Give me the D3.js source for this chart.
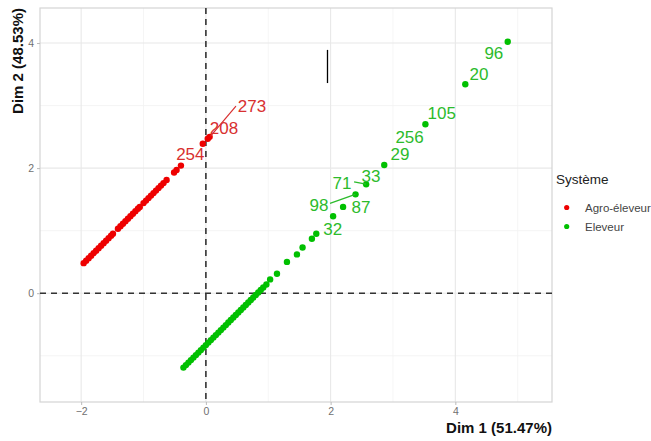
<!DOCTYPE html>
<html><head><meta charset="utf-8">
<script src="https://cdn.jsdelivr.net/npm/d3@7"></script>
<style>body{margin:0;background:#fff}svg{display:block}</style>
</head><body><svg id="c" width="651" height="441"></svg>
<script>
// ---- data ----
const groups = ["Agro-éleveur", "Eleveur"];
const redX = [-1.96,-1.92,-1.88,-1.84,-1.80,-1.76,-1.72,-1.68,-1.64,-1.60,-1.56,-1.52,-1.49,
  -1.41,-1.37,-1.33,-1.29,-1.25,-1.21,-1.17,-1.13,-1.09,-1.06,
  -1.00,-0.96,-0.92,-0.88,-0.84,-0.80,-0.76,-0.72,-0.68,-0.63,
  -0.51,-0.47,-0.40,-0.05,0.03,0.06];
const redY = [0.48,0.52,0.56,0.60,0.64,0.68,0.72,0.76,0.80,0.84,0.88,0.92,0.95,
  1.03,1.07,1.11,1.15,1.19,1.23,1.27,1.31,1.35,1.38,
  1.44,1.48,1.52,1.56,1.60,1.64,1.68,1.72,1.76,1.81,
  1.93,1.97,2.04,2.39,2.47,2.50];
const greenX = [-0.36,-0.32,-0.28,-0.24,-0.20,-0.16,-0.12,-0.08,-0.04,0.00,0.04,0.08,0.12,0.16,0.20,0.24,0.28,0.32,0.36,0.40,0.44,0.48,0.52,0.56,0.60,0.64,0.68,0.72,0.76,0.80,0.84,0.88,0.92,0.97,
  1.03,1.14,1.30,1.46,1.55,1.70,1.77,2.04,2.20,2.40,2.57,2.86,3.52,4.16,4.84];
const greenY = [-1.19,-1.15,-1.11,-1.07,-1.03,-0.99,-0.95,-0.91,-0.87,-0.83,-0.79,-0.75,-0.71,-0.67,-0.63,-0.59,-0.55,-0.51,-0.47,-0.43,-0.39,-0.35,-0.31,-0.27,-0.23,-0.19,-0.15,-0.11,-0.07,-0.03,0.01,0.05,0.09,0.14,
  0.22,0.31,0.50,0.62,0.73,0.87,0.95,1.23,1.38,1.58,1.74,2.05,2.70,3.34,4.02];
const labelText  = ["273","208","254","96","20","105","256","29","33","71","98","87","32"];
const labelGroup = [0,0,0,1,1,1,1,1,1,1,1,1,1];
const labelX = [0.738,0.289,-0.249,4.618,4.379,3.783,3.266,3.114,2.648,2.183,1.814,2.488,2.034];
const labelY = [2.992,2.635,2.213,3.835,3.504,2.880,2.491,2.219,1.867,1.749,1.408,1.371,1.019];
const segGroup = [0,1,1];
const segX1 = [0.482,2.376,1.990], segY1 = [2.992,1.781,1.435];
const segX2 = [0.075,2.568,2.396], segY2 = [2.512,1.744,1.579];
const xTicks = [-2,0,2,4], yTicks = [0,2,4];
const xMinor = [-1,1,3,5], yMinor = [-1,1,3];
const xTitle = "Dim 1 (51.47%)", yTitle = "Dim 2 (48.53%)", legendTitle = "Système";
const cursorX = [1.95], cursorY1 = [3.36], cursorY2 = [3.89];

// ---- drawing ----
const ptColor = ["#ee0000", "#00c000"];
const txtColor = ["#d83030", "#2cbb2c"];
const svg = d3.select("#c");
const L=40,R=552,T=8,B=402;
const x = d3.scaleLinear().domain([-2.66,5.55]).range([L,R]);
const y = d3.scaleLinear().domain([-1.74,4.56]).range([B,T]);

const g = svg.append("g");
g.selectAll(".gmx").data(xMinor.filter(v=>x(v)<R)).join("line")
  .attr("x1",d=>x(d)).attr("x2",d=>x(d)).attr("y1",T).attr("y2",B)
  .attr("stroke","#f2f2f2").attr("stroke-width",0.8);
g.selectAll(".gmy").data(yMinor).join("line")
  .attr("y1",d=>y(d)).attr("y2",d=>y(d)).attr("x1",L).attr("x2",R)
  .attr("stroke","#f2f2f2").attr("stroke-width",0.8);
g.selectAll(".gx").data(xTicks).join("line")
  .attr("x1",d=>x(d)).attr("x2",d=>x(d)).attr("y1",T).attr("y2",B)
  .attr("stroke","#e8e8e8").attr("stroke-width",1.1);
g.selectAll(".gy").data(yTicks).join("line")
  .attr("y1",d=>y(d)).attr("y2",d=>y(d)).attr("x1",L).attr("x2",R)
  .attr("stroke","#e8e8e8").attr("stroke-width",1.1);
svg.append("rect").attr("x",L).attr("y",T).attr("width",R-L).attr("height",B-T)
  .attr("fill","none").attr("stroke","#d4d4d4").attr("stroke-width",1.2);

// axes
const xa = svg.append("g").attr("transform",`translate(0,${B})`)
  .call(d3.axisBottom(x).tickValues(xTicks).tickSize(3).tickPadding(3).tickFormat(d3.format("d")));
const ya = svg.append("g").attr("transform",`translate(${L},0)`)
  .call(d3.axisLeft(y).tickValues(yTicks).tickSize(3).tickPadding(3).tickFormat(d3.format("d")));
[xa,ya].forEach(a=>{
  a.select(".domain").remove();
  a.selectAll(".tick line").attr("stroke","#bbbbbb");
  a.selectAll(".tick text").attr("fill","#707070").attr("font-size","10.5px")
   .attr("font-family","Liberation Sans, Arial, sans-serif");
});

// zero dashed lines
svg.append("line").attr("x1",x(0)).attr("x2",x(0)).attr("y1",T).attr("y2",B)
  .attr("stroke","#333").attr("stroke-width",1.6).attr("stroke-dasharray","6,5");
svg.append("line").attr("y1",y(0)).attr("y2",y(0)).attr("x1",L).attr("x2",R)
  .attr("stroke","#333").attr("stroke-width",1.6).attr("stroke-dasharray","6,5");

// points
const pts = [];
redX.forEach((v,i)=>pts.push({x:v,y:redY[i],g:0}));
greenX.forEach((v,i)=>pts.push({x:v,y:greenY[i],g:1}));
svg.append("g").selectAll("circle").data(pts).join("circle")
  .attr("cx",d=>x(d.x)).attr("cy",d=>y(d.y)).attr("r",3.2)
  .attr("fill",d=>ptColor[d.g]);

// label segments
svg.append("g").selectAll("line").data(segGroup.map((gg,i)=>({g:gg,i}))).join("line")
  .attr("x1",d=>x(segX1[d.i])).attr("y1",d=>y(segY1[d.i]))
  .attr("x2",d=>x(segX2[d.i])).attr("y2",d=>y(segY2[d.i]))
  .attr("stroke",d=>txtColor[d.g]).attr("stroke-width",1.2);

// labels
svg.append("g").selectAll("text").data(labelText.map((t,i)=>({t,i}))).join("text")
  .attr("x",d=>x(labelX[d.i])).attr("y",d=>y(labelY[d.i]))
  .attr("text-anchor","middle").attr("dominant-baseline","central")
  .attr("font-family","Liberation Sans, Arial, sans-serif").attr("font-size","17px")
  .attr("fill",d=>txtColor[labelGroup[d.i]]).text(d=>d.t);

// cursor artifact
svg.append("g").selectAll("line").data(cursorX.map((v,i)=>i)).join("line")
  .attr("x1",i=>x(cursorX[i])).attr("x2",i=>x(cursorX[i]))
  .attr("y1",i=>y(cursorY1[i])).attr("y2",i=>y(cursorY2[i]))
  .attr("stroke","#000").attr("stroke-width",1.3);

// axis titles
svg.append("text").attr("x",R).attr("y",433).attr("text-anchor","end")
  .attr("font-family","Liberation Sans, Arial, sans-serif").attr("font-size","15px")
  .attr("font-weight","bold").attr("fill","#111").text(xTitle);
svg.append("text").attr("transform",`translate(22.5,${T}) rotate(-90)`).attr("text-anchor","end")
  .attr("font-family","Liberation Sans, Arial, sans-serif").attr("font-size","15px")
  .attr("font-weight","bold").attr("fill","#111").text(yTitle);

// legend
svg.append("text").attr("x",556).attr("y",179).attr("dominant-baseline","central")
  .attr("font-family","Liberation Sans, Arial, sans-serif").attr("font-size","13.5px")
  .attr("fill","#222").text(legendTitle);
const lg = svg.append("g").selectAll("g").data(groups).join("g")
  .attr("transform",(d,i)=>`translate(0,${207.5+i*19})`);
lg.append("circle").attr("cx",566.7).attr("cy",0).attr("r",2.6).attr("fill",(d,i)=>ptColor[i]);
lg.append("text").attr("x",585).attr("y",0).attr("dominant-baseline","central")
  .attr("font-family","Liberation Sans, Arial, sans-serif").attr("font-size","11.5px")
  .attr("fill","#444").text(d=>d);
</script></body></html>
